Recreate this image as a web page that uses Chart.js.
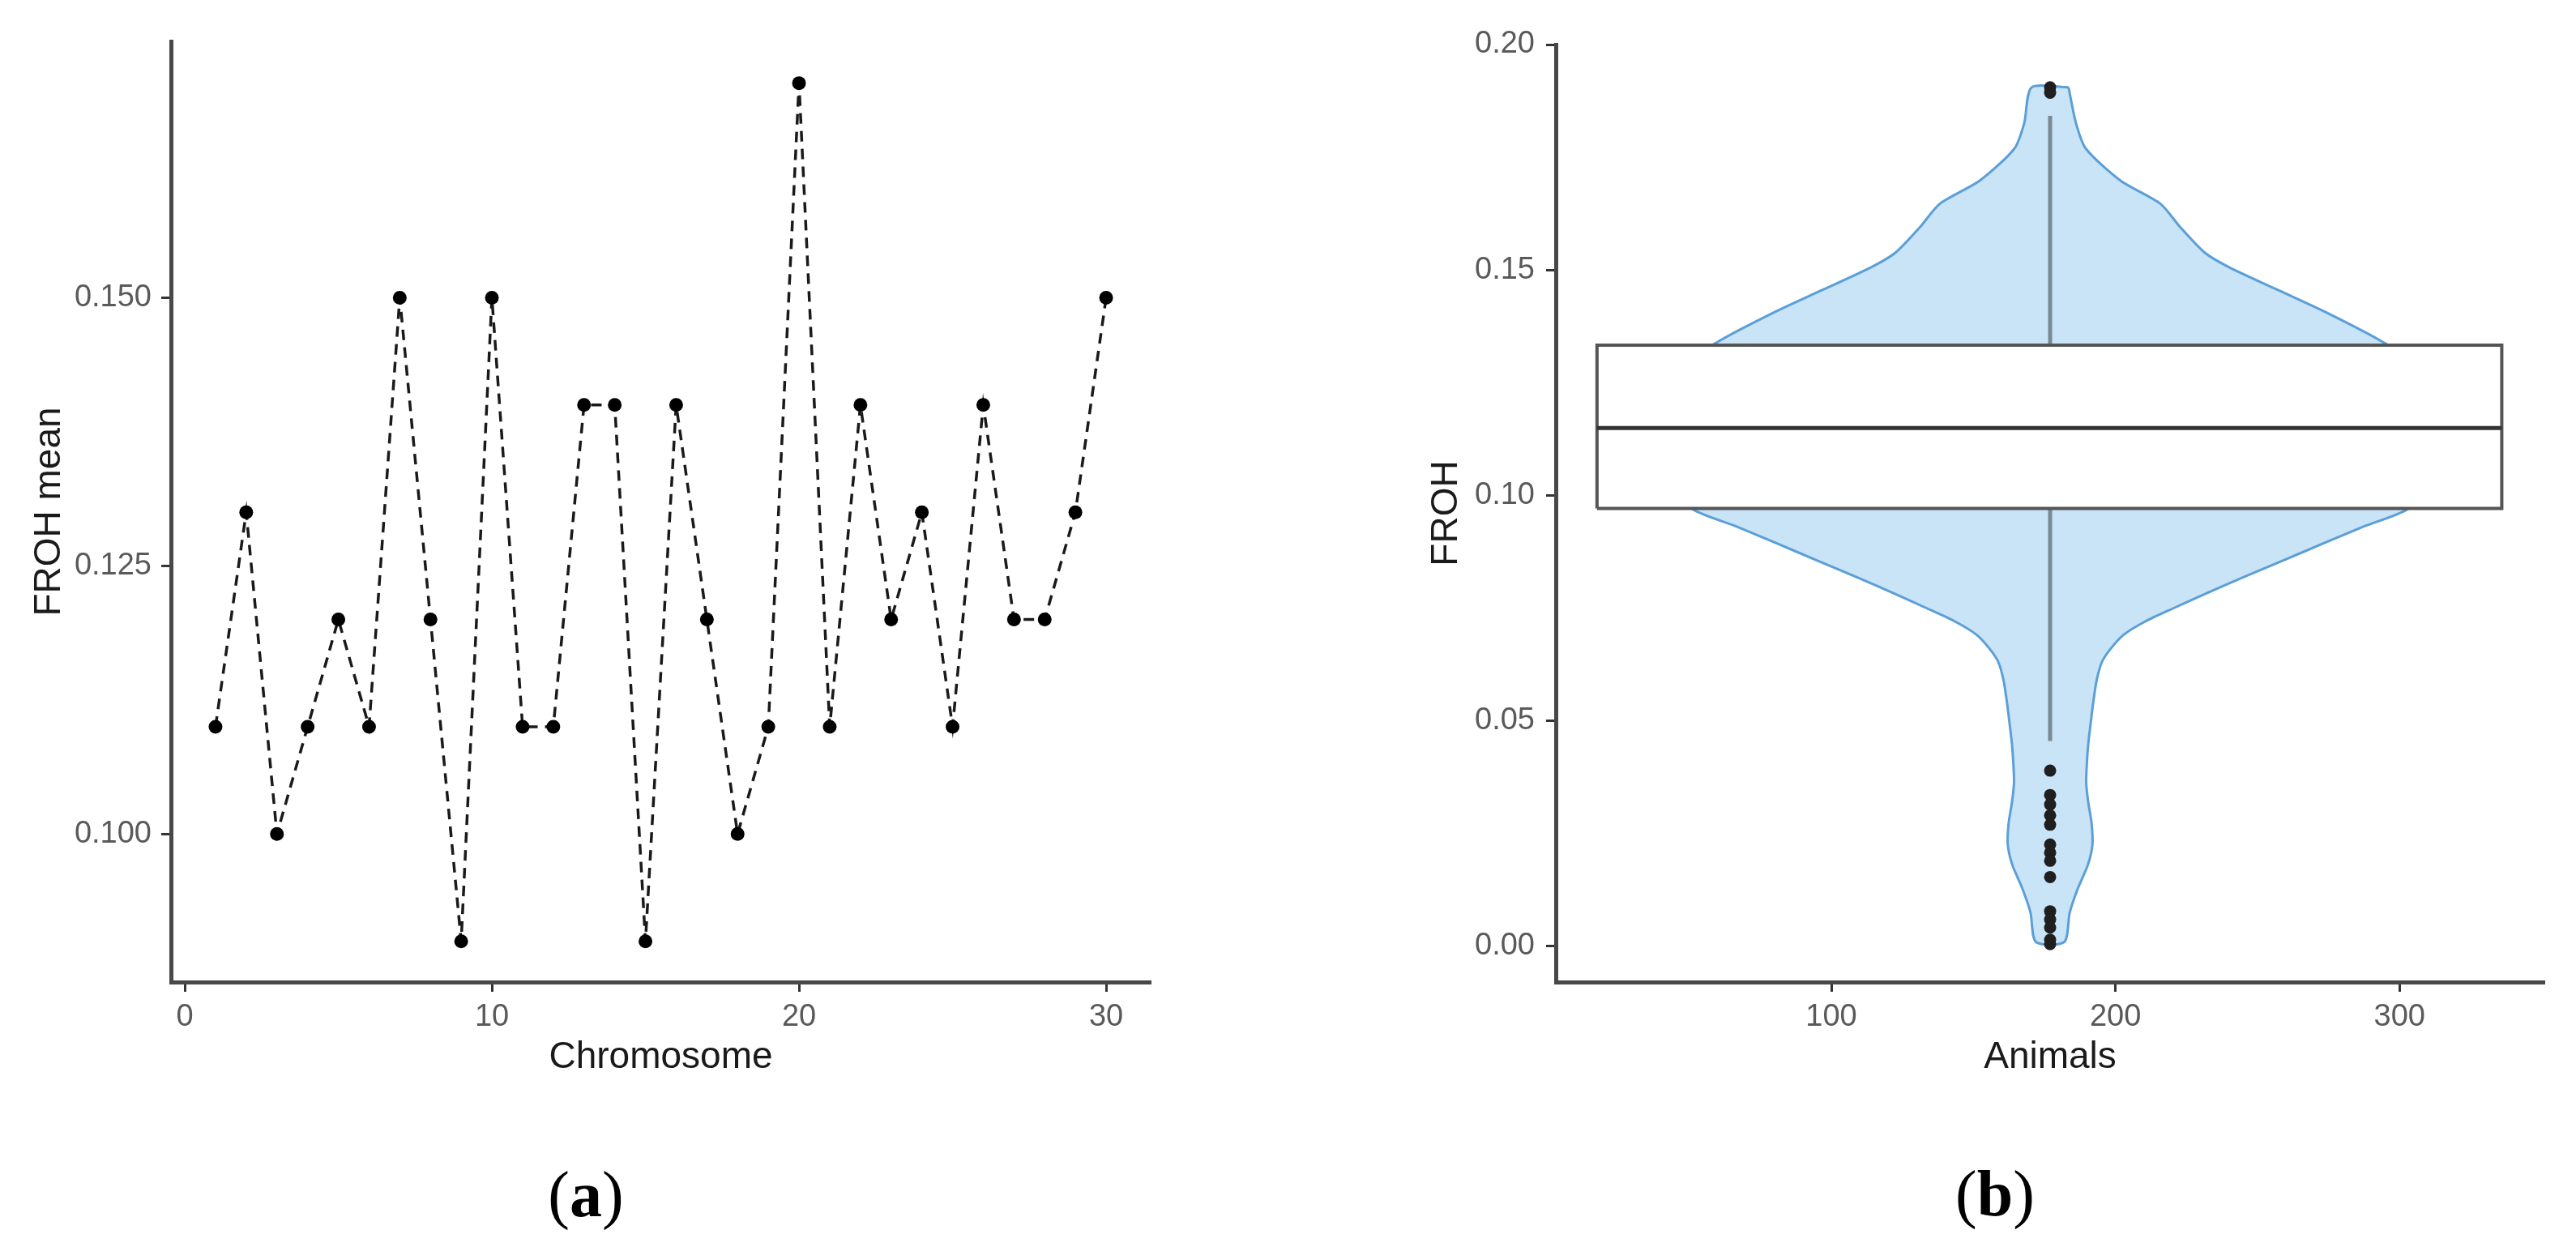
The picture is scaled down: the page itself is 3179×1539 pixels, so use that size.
<!DOCTYPE html>
<html lang="en">
<head>
<meta charset="UTF-8" />
<title>FROH per chromosome and across animals</title>
<script src="https://cdn.jsdelivr.net/npm/chart.js"></script>
<style>
  html, body { margin: 0; padding: 0; background: #fff; }
  body { width: 3179px; height: 1539px; position: relative; overflow: hidden; }
  .panel { position: absolute; top: 0; height: 1340px; }
  #panelA { left: 0; width: 1440px; }
  #panelB { left: 1680px; width: 1499px; }
  .tag {
    position: absolute;
    font-family: "Liberation Serif", "Times New Roman", serif;
    font-size: 80px;
    line-height: 1;
    transform: translate(-50%, -50%);
    color: #000;
  }
</style>
</head>
<body>
  <div class="panel" id="panelA"><canvas id="chartA"></canvas></div>
  <div class="panel" id="panelB"><canvas id="chartB"></canvas></div>
  <div class="tag" style="left:723px; top:1474px">(<b>a</b>)</div>
  <div class="tag" style="left:2462px; top:1473px">(<b>b</b>)</div>

<script>
  // (a) FROH mean per chromosome
  const chromosomes = [1, 2, 3, 4, 5, 6, 7, 8, 9, 10, 11, 12, 13, 14, 15,
                       16, 17, 18, 19, 20, 21, 22, 23, 24, 25, 26, 27, 28, 29, 30];
  const frohMean = [0.11, 0.13, 0.10, 0.11, 0.12, 0.11, 0.15, 0.12, 0.09, 0.15,
                    0.11, 0.11, 0.14, 0.14, 0.09, 0.14, 0.12, 0.10, 0.11, 0.17,
                    0.11, 0.14, 0.12, 0.13, 0.11, 0.14, 0.12, 0.12, 0.13, 0.15];
  const xTicksA = [0, 10, 20, 30];
  const yTicksA = [0.100, 0.125, 0.150];

  // (b) FROH over all animals: violin outline (value, half width in "Animals" units)
  const violinY = [0.1905, 0.1826, 0.1769, 0.1698, 0.1647, 0.1595, 0.1538, 0.1505, 0.1454,
                   0.1403, 0.1339, 0.125, 0.115, 0.105, 0.0969, 0.0931, 0.0894, 0.0857,
                   0.0820, 0.0782, 0.0751, 0.0720, 0.0691, 0.0661, 0.0631, 0.0590, 0.0541,
                   0.0490, 0.0446, 0.0400, 0.0362, 0.0320, 0.0272, 0.0225, 0.0180, 0.0128,
                   0.0074, 0.0009];
  const violinHalf = [6.5, 9.1, 12.6, 24.8, 38.8, 45.8, 54.5, 63.3, 80.7,
                      98.1, 117.4, 138, 148, 140, 125.8, 110.5, 96.5, 82.6,
                      68.7, 54.8, 44.0, 33.5, 26.0, 21.5, 18.3, 16.4, 15.2,
                      14.2, 13.4, 12.9, 12.7, 13.4, 14.6, 14.9, 13.3, 9.8,
                      6.9, 5.0];
  const violinCenter = 177;
  const boxLeft = 17.5, boxRight = 336;
  const boxQ1 = 0.0971, boxMedian = 0.1149, boxQ3 = 0.1333;
  const whiskerLow = 0.0455, whiskerHigh = 0.1842;
  const outliers = [0.1905, 0.1893, 0.0389, 0.0335, 0.0314, 0.0290, 0.0269, 0.0225,
                    0.0207, 0.0189, 0.0153, 0.0077, 0.0059, 0.0041, 0.0014, 0.0004];
  const xTicksB = [100, 200, 300];
  const yTicksB = [0.00, 0.05, 0.10, 0.15, 0.20];

  const FONT = "'Liberation Sans', Arial, sans-serif";

  function makeScale(o) {
    return {
      type: 'linear',
      min: o.min,
      max: o.max,
      afterBuildTicks: s => { s.ticks = o.ticks.map(v => ({ value: v })); },
      afterFit: s => { if (o.axis === 'x') s.height = o.size; else s.width = o.size; },
      border: { display: true, color: '#484848', width: 5 },
      grid: { drawOnChartArea: false, drawTicks: true, tickLength: 12, tickColor: '#333', tickWidth: 3 },
      ticks: {
        autoSkip: false,
        maxRotation: 0,
        padding: o.tickPad,
        color: '#5a5a5a',
        font: { family: FONT, size: 38 },
        callback: v => v.toFixed(o.digits)
      },
      title: {
        display: true,
        text: o.title,
        color: '#1a1a1a',
        font: { family: FONT, size: 46 },
        padding: o.titlePad
      }
    };
  }

  const commonPlugins = { legend: { display: false }, tooltip: { enabled: false } };

  new Chart(document.getElementById('chartA'), {
    type: 'line',
    data: {
      datasets: [{
        data: chromosomes.map((c, i) => ({ x: c, y: frohMean[i] })),
        borderColor: '#1a1a1a',
        borderWidth: 3.5,
        borderDash: [13, 9],
        pointRadius: 8.5,
        pointBackgroundColor: '#000',
        pointBorderWidth: 0,
        tension: 0,
        fill: false
      }]
    },
    options: {
      responsive: true,
      maintainAspectRatio: false,
      animation: false,
      layout: { padding: { top: 51, right: 20, left: 0, bottom: 0 } },
      plugins: commonPlugins,
      scales: {
        x: makeScale({ axis: 'x', min: -0.45, max: 31.45, ticks: xTicksA, digits: 0, size: 128,
                       tickPad: 9, title: 'Chromosome', titlePad: { top: 0, bottom: 7 } }),
        y: makeScale({ axis: 'y', min: 0.0862, max: 0.1739, ticks: yTicksA, digits: 3, size: 211,
                       tickPad: 12, title: 'FROH mean', titlePad: { top: 34, bottom: 0 } })
      }
    }
  });

  // violin polygon: right side going down, left side going back up
  const violinPts = [];
  violinY.forEach((y, i) => violinPts.push({ x: violinCenter + violinHalf[i], y: y }));
  for (let i = violinY.length - 1; i >= 0; i--) {
    violinPts.push({ x: violinCenter - violinHalf[i], y: violinY[i] });
  }
  violinPts.push(violinPts[0]);

  const boxPts = [
    { x: boxLeft, y: boxQ1 }, { x: boxRight, y: boxQ1 },
    { x: boxRight, y: boxQ3 }, { x: boxLeft, y: boxQ3 }, { x: boxLeft, y: boxQ1 }
  ];

  new Chart(document.getElementById('chartB'), {
    type: 'line',
    data: {
      datasets: [
        {
          data: violinPts, order: 5, fill: 'shape', tension: 0.25,
          borderColor: '#5b9fd8', borderWidth: 3, backgroundColor: '#c9e3f7', pointRadius: 0
        },
        {
          data: [{ x: violinCenter, y: boxQ3 }, { x: violinCenter, y: whiskerHigh }], order: 4,
          borderColor: '#7a8a94', borderWidth: 5, pointRadius: 0, fill: false
        },
        {
          data: [{ x: violinCenter, y: boxQ1 }, { x: violinCenter, y: whiskerLow }], order: 4,
          borderColor: '#7a8a94', borderWidth: 5, pointRadius: 0, fill: false
        },
        {
          data: boxPts, order: 2, fill: 'shape', tension: 0, borderJoinStyle: 'miter',
          borderColor: '#555', borderWidth: 4, backgroundColor: '#fff', pointRadius: 0
        },
        {
          data: [{ x: boxLeft, y: boxMedian }, { x: boxRight, y: boxMedian }], order: 1,
          borderColor: '#333', borderWidth: 5, pointRadius: 0, fill: false
        },
        {
          data: outliers.map(y => ({ x: violinCenter, y: y })), order: 0, showLine: false,
          pointRadius: 7.5, pointBackgroundColor: '#1f1f1f', pointBorderWidth: 0
        }
      ]
    },
    options: {
      responsive: true,
      maintainAspectRatio: false,
      animation: false,
      layout: { padding: { top: 55, right: 39, left: 0, bottom: 0 } },
      plugins: commonPlugins,
      scales: {
        x: makeScale({ axis: 'x', min: 3, max: 351, ticks: xTicksB, digits: 0, size: 128,
                       tickPad: 9, title: 'Animals', titlePad: { top: 0, bottom: 7 } }),
        y: makeScale({ axis: 'y', min: -0.008, max: 0.2, ticks: yTicksB, digits: 2, size: 240,
                       tickPad: 14, title: 'FROH', titlePad: { top: 78, bottom: 0 } })
      }
    }
  });
</script>
</body>
</html>
